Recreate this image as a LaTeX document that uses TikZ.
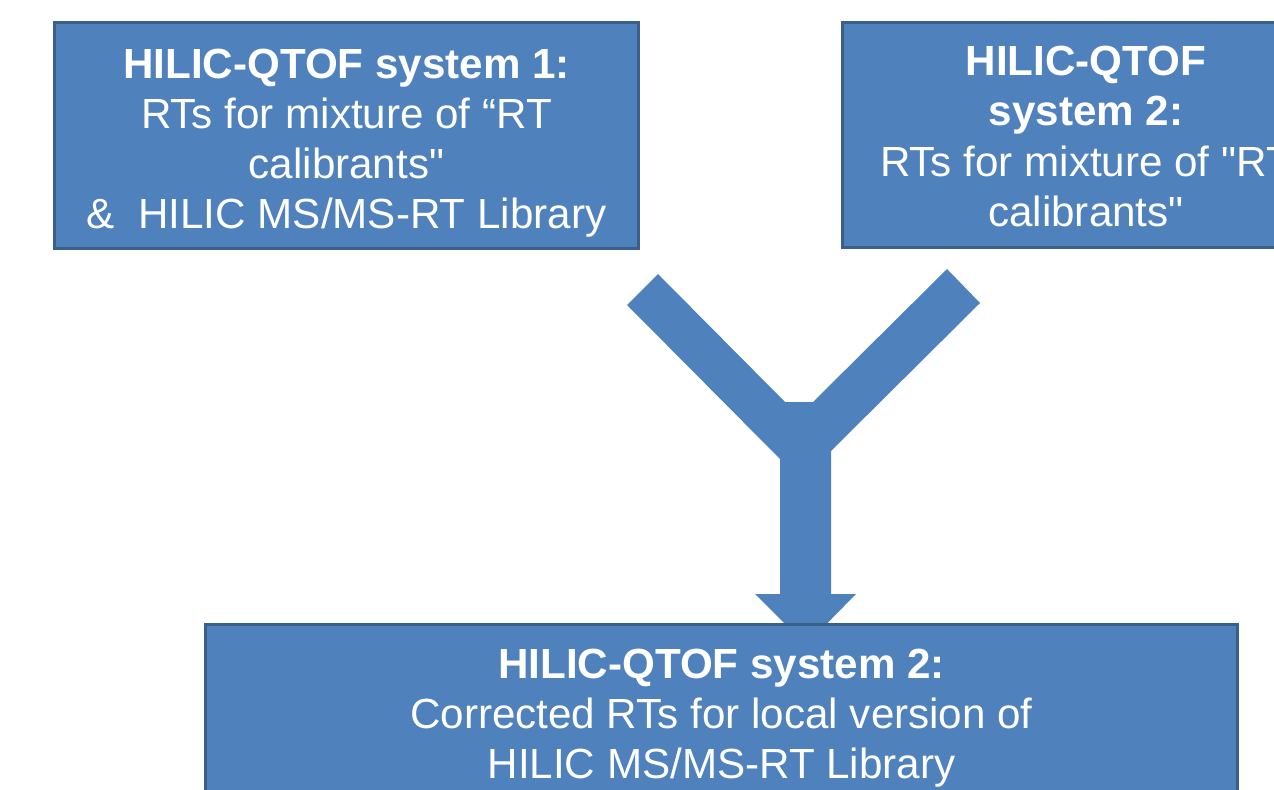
\documentclass[tikz,border=0pt]{standalone}
\usepackage{fontspec}
\setmainfont{Liberation Sans}[Ligatures=TeXOff]
\usetikzlibrary{positioning}
\definecolor{boxfill}{HTML}{4F81BD}
\definecolor{boxline}{HTML}{3A5F8B}

\begin{document}
\begin{tikzpicture}[x=0.02cm,y=-0.02cm,
  box/.style={draw=boxline,line width=1.7pt,fill=boxfill,inner sep=0pt},
  boxtext/.style={text=white,align=center,inner sep=0pt,
    font=\fontsize{24}{28.5}\selectfont}]
  \useasboundingbox (0,0) rectangle (1274,790);

  % Y-shaped arrow corners
  \coordinate (A) at (627,305);
  \coordinate (B) at (658,274);
  \coordinate (C) at (785,402);
  \coordinate (D) at (813,402);
  \coordinate (E) at (947,269);
  \coordinate (F) at (980,303);
  \coordinate (G) at (831,451);
  \coordinate (H) at (831,594);
  \coordinate (I) at (856,594);
  \coordinate (T) at (806,645);
  \coordinate (J) at (755,594);
  \coordinate (K) at (780,594);
  \coordinate (L) at (780,459);

  % merging arrow
  \fill[boxfill] (A)--(B)--(C)--(D)--(E)--(F)--(G)--(H)--(I)--(T)
                 --(J)--(K)--(L)--cycle;

  % boxes
  \node[box,minimum width=11.7cm,minimum height=4.54cm] (sysone) at (346.5,135.5) {};
  \node[box,minimum width=9.76cm,minimum height=4.52cm] (systwo) at (1086,135) {};
  \node[box,minimum width=20.66cm,minimum height=3.6cm] (corrected) at (721.5,714) {};

  % box texts
  \node[boxtext] (sysonetext) at ([yshift=-0.15cm]sysone.center)
    {\textbf{HILIC-QTOF system 1:}\\RTs for mixture of “RT\\calibrants"\\
     \&\ \ HILIC MS/MS-RT Library};
  \node[boxtext] (systwotext) at ([yshift=-0.03cm]systwo.center)
    {\textbf{HILIC-QTOF}\\\textbf{system 2:}\\RTs for mixture of "RT\\calibrants"};
  \node[boxtext] (correctedtext) at ([yshift=-0.075cm]corrected.center)
    {\textbf{HILIC-QTOF system 2:}\\Corrected RTs for local version of\\
     HILIC MS/MS-RT Library};
\end{tikzpicture}
\end{document}
